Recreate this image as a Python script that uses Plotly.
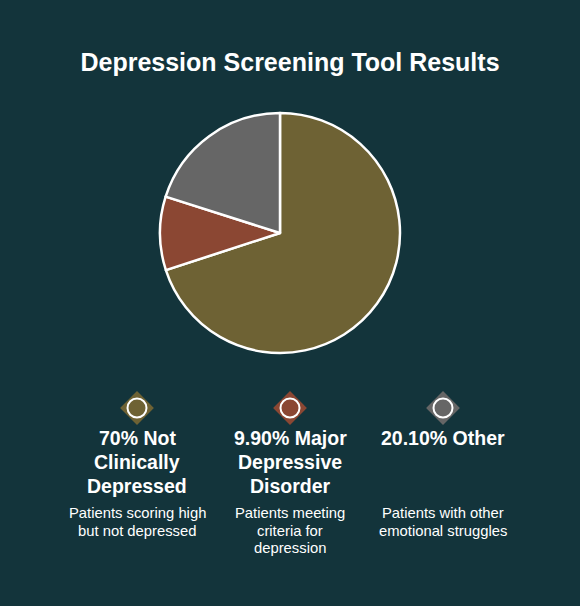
import plotly.graph_objects as go

W, H = 580, 606
BG = "#13343b"

labels = ["Not Clinically Depressed", "Major Depressive Disorder", "Other"]
values = [70, 9.9, 20.1]
pct_labels = ["70%", "9.90%", "20.10%"]
titles = ["70% Not<br>Clinically<br>Depressed", "9.90% Major<br>Depressive<br>Disorder", "20.10% Other"]
descriptions = ["Patients scoring high<br>but not depressed",
                "Patients meeting<br>criteria for<br>depression",
                "Patients with other<br>emotional struggles"]
colors = ["#6e6234", "#8b4733", "#666666"]

legend_x = [137, 290, 443]
legend_y_px = 408

fig = go.Figure()

# pie
cx, cy, r = 280, 233, 120
fig.add_trace(go.Pie(
    labels=labels, values=values, sort=False, direction="clockwise", rotation=0,
    marker=dict(colors=colors, line=dict(color="white", width=2.5)),
    textinfo="none", hoverinfo="label+percent", showlegend=False,
    domain=dict(x=[(cx - r) / W, (cx + r) / W], y=[1 - (cy + r) / H, 1 - (cy - r) / H]),
))

# legend markers (diamond behind circle)
fig.add_trace(go.Scatter(
    x=legend_x, y=[H - legend_y_px] * 3, mode="markers",
    marker=dict(symbol="diamond", size=26, color=colors, line=dict(width=0)),
    hoverinfo="skip", showlegend=False,
))
fig.add_trace(go.Scatter(
    x=legend_x, y=[H - legend_y_px] * 3, mode="markers",
    marker=dict(symbol="circle", size=19, color=colors, line=dict(color="white", width=2)),
    hoverinfo="skip", showlegend=False,
))

annotations = []
for x, t, d in zip(legend_x, titles, descriptions):
    for i, line in enumerate(t.split("<br>")):
        annotations.append(dict(
            x=x, y=H - (438 + 24 * i), xref="x", yref="y", text=f"<b>{line}</b>", showarrow=False,
            xanchor="center", yanchor="middle", align="center",
            font=dict(family="Liberation Sans, Arial", size=19.5, color="white"),
        ))
    for i, line in enumerate(d.split("<br>")):
        annotations.append(dict(
            x=x, y=H - (513 + 17.5 * i), xref="x", yref="y", text=line, showarrow=False,
            xanchor="center", yanchor="middle", align="center",
            font=dict(family="Liberation Sans, Arial", size=14.8, color="white"),
        ))

fig.update_layout(
    width=W, height=H, margin=dict(l=0, r=0, t=0, b=0),
    paper_bgcolor=BG, plot_bgcolor=BG,
    title=dict(text="<b>Depression Screening Tool Results</b>", x=0.5, xanchor="center",
               y=1 - 62 / H, yanchor="middle",
               font=dict(family="Liberation Sans, Arial", size=25, color="white")),
    xaxis=dict(range=[0, W], visible=False, fixedrange=True, domain=[0, 1]),
    yaxis=dict(range=[0, H], visible=False, fixedrange=True, domain=[0, 1]),
    annotations=annotations,
)

fig.write_html("out.html")
